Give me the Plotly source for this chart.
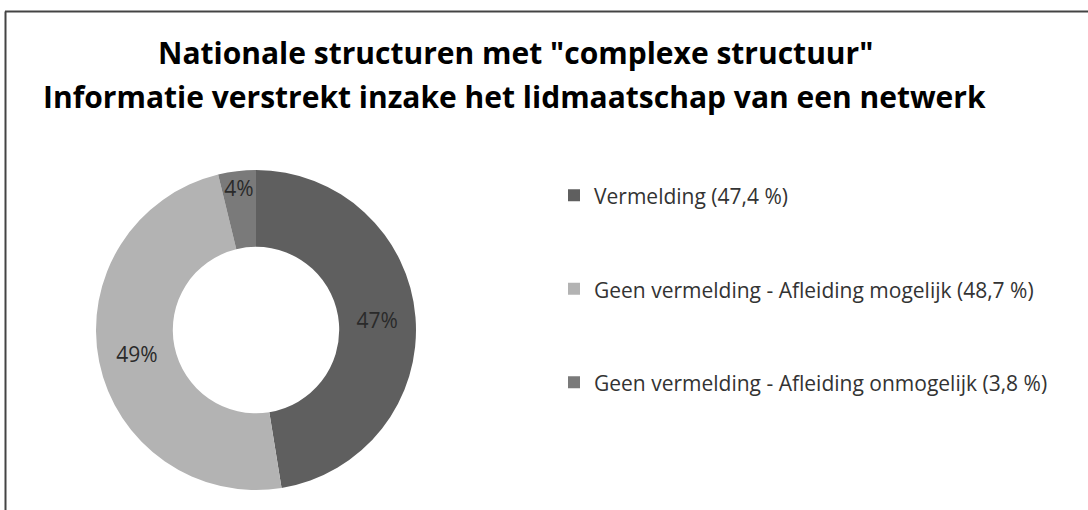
import plotly.graph_objects as go

# Data
categories = [
    "Vermelding (47,4 %)",
    "Geen vermelding - Afleiding mogelijk (48,7 %)",
    "Geen vermelding - Afleiding onmogelijk (3,8 %)",
]
values = [47.4, 48.7, 3.8]
colors = ["#5f5f5f", "#b3b3b3", "#7a7a7a"]

title_lines = [
    "Nationale structuren met \"complexe structuur\"",
    "Informatie verstrekt inzake het lidmaatschap van een netwerk",
]

W, H = 1088, 510
FONT = "Open Sans"

# Legend labels padded with blank lines to space the entries vertically
legend_labels = [
    "<br><span style='font-size:21px'>" + c + "</span><br>" for c in categories
]

fig = go.Figure(
    go.Pie(
        labels=legend_labels,
        values=values,
        marker=dict(colors=colors, line=dict(width=0)),
        hole=0.52,
        sort=False,
        direction="clockwise",
        rotation=0,
        texttemplate="%{percent:.0%}",
        textposition="inside",
        insidetextorientation="horizontal",
        textfont=dict(family=FONT, size=21, color="#2a2a2a"),
        hovertemplate="%{value}<extra></extra>",
        domain=dict(x=[96 / W, 416 / W], y=[1 - 490 / H, 1 - 170 / H]),
    )
)

fig.update_layout(
    width=W,
    height=H,
    margin=dict(l=0, r=0, t=0, b=0),
    paper_bgcolor="white",
    plot_bgcolor="white",
    showlegend=True,
    uniformtext=dict(minsize=21, mode="show"),
    legend=dict(
        x=554 / W,
        y=1 - 143.5 / H,
        xanchor="left",
        yanchor="top",
        font=dict(family=FONT, size=23.2, color="#333333"),
        valign="middle",
        itemwidth=30,
        tracegroupgap=0,
        bgcolor="rgba(0,0,0,0)",
    ),
    annotations=[
        dict(
            text=title_lines[0],
            x=515 / W, y=1 - 53 / H, xref="paper", yref="paper",
            xanchor="center", yanchor="middle", showarrow=False,
            font=dict(family=FONT, size=30, color="black", weight="bold"),
        ),
        dict(
            text=title_lines[1],
            x=514 / W, y=1 - 96 / H, xref="paper", yref="paper",
            xanchor="center", yanchor="middle", showarrow=False,
            font=dict(family=FONT, size=30, color="black", weight="bold"),
        ),
    ],
    shapes=[
        dict(type="line", xref="paper", yref="paper",
             x0=5 / W, x1=1, y0=1 - 11.5 / H, y1=1 - 11.5 / H,
             line=dict(color="#444444", width=2)),
        dict(type="line", xref="paper", yref="paper",
             x0=5.5 / W, x1=5.5 / W, y0=0, y1=1 - 11.5 / H,
             line=dict(color="#444444", width=2)),
    ],
)

fig.write_html(
    "out.html",
    config={"displayModeBar": False},
    post_script="document.body.style.margin='0px';",
)
